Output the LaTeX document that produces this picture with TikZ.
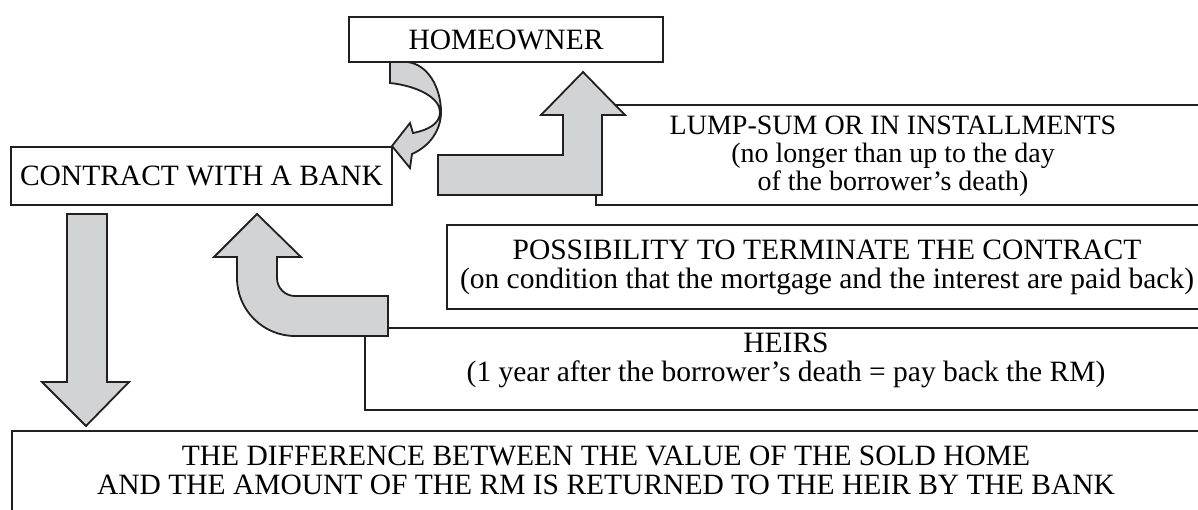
\documentclass[tikz,border=0pt]{standalone}
\usepackage{fontspec}
\setmainfont{Liberation Serif}
\definecolor{arrowgray}{RGB}{209,211,212}
\definecolor{inkblack}{RGB}{35,31,32}

\begin{document}
\begin{tikzpicture}[x=1pt, y=-1pt,
    box/.style={draw=inkblack, line width=2.7pt},
    blockarrow/.style={draw=inkblack, fill=arrowgray, line width=1.8pt, line join=miter},
    boxtext/.style={inner sep=0pt, align=center, font=\fontsize{29.5}{29}\selectfont},
    smalltext/.style={inner sep=0pt, align=center, font=\fontsize{28}{28}\selectfont}]

    \useasboundingbox (0,0) rectangle (1198,509);
    \clip (0,0) rectangle (1198,509);

    % Boxes running off the right edge
    \draw[box] (596,105) rectangle (1230,205);
    \draw[box] (447,225) rectangle (1230,309);
    \draw[box] (365,328) rectangle (1230,410);
    \draw[box] (12,431) rectangle (1230,540);

    % Their texts (top = first baseline - cap height)
    \node[smalltext, anchor=north] (lump) at (893,115.7) {LUMP-SUM OR IN INSTALLMENTS\\(no longer than up to the day\\of the borrower’s death)};
    \node[boxtext, anchor=north] (terminate) at (827,240) {POSSIBILITY TO TERMINATE THE CONTRACT\\(on condition that the mortgage and the interest are paid back)};
    \node[boxtext, anchor=north] (heirs) at (786,333) {HEIRS\\(1 year after the borrower’s death = pay back the RM)};
    \node[boxtext, anchor=north] (diff) at (606,446) {THE DIFFERENCE BETWEEN THE VALUE OF THE SOLD HOME\\AND THE AMOUNT OF THE RM IS RETURNED TO THE HEIR BY THE BANK};

    % Homeowner and contract
    \node[box, boxtext, minimum width=314pt, minimum height=45pt] (owner) at (506,39.5) {HOMEOWNER};
    \node[box, boxtext, minimum width=381pt, minimum height=58pt] (contract) at (201.5,176) {CONTRACT WITH A BANK};

    % Down arrow to the difference box
    \draw[blockarrow] (67,214) -- (107,214) -- (107,382) -- (129,382) -- (86,426) -- (42,382) -- (67,382) -- cycle;

    % Payout arrow up to the homeowner
    \draw[blockarrow] (438,155) -- (563,155) -- (563,115) -- (541,115) -- (583,72) -- (625,115) -- (602,115) -- (602,195) -- (438,195) -- cycle;

    % Heirs arrow up to the contract
    \draw[blockarrow] (388,296) -- (295,296) .. controls (285,296) and (277,288) .. (277,278) -- (277,257) -- (301,257) -- (257,214) -- (214,257) -- (237,257) -- (237,278) .. controls (237,310) and (263,336) .. (295,336) -- (388,336) -- cycle;

    % Curled arrow from homeowner to contract
    \draw[blockarrow] (390,62) -- (390,83) .. controls (418,86) and (440,98) .. (440,112) .. controls (440,124) and (428,130) .. (413,133) -- (410,123) -- (392,146) -- (410,168) -- (412,154) .. controls (430,146) and (441,130) .. (441,112) .. controls (441,88) and (428,64) .. (407,62) -- cycle;
\end{tikzpicture}
\end{document}
